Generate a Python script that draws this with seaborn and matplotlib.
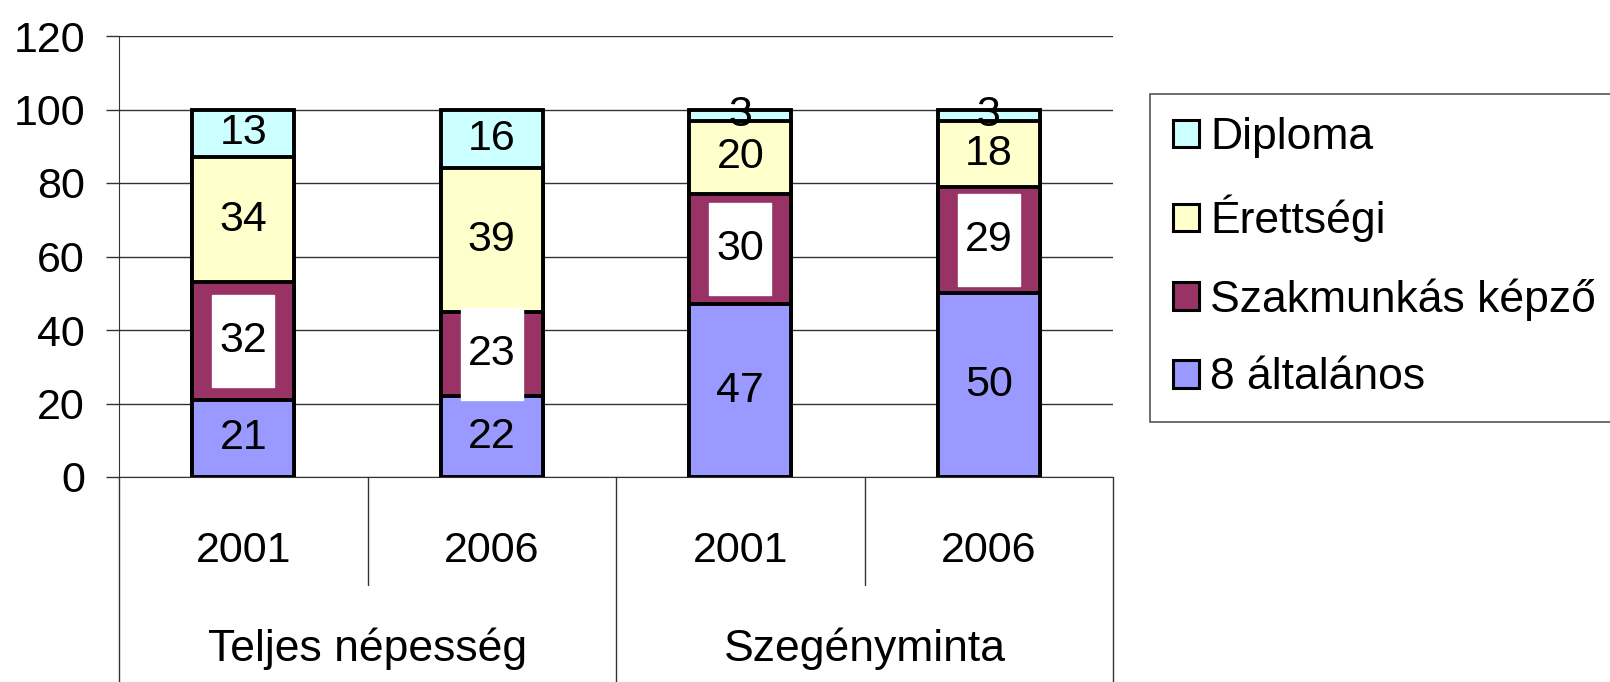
import matplotlib
matplotlib.use("Agg")
import matplotlib.pyplot as plt
import matplotlib.transforms as mtransforms
from matplotlib.patches import Patch
import pandas as pd
import seaborn as sns

# Adatok
groups = ["Teljes népesség", "Teljes népesség", "Szegényminta", "Szegényminta"]
years = ["2001", "2006", "2001", "2006"]
series = ["8 általános", "Szakmunkás képző", "Érettségi", "Diploma"]
alt8 = [21, 22, 47, 50]
szakmunkas = [32, 23, 30, 29]
erettsegi = [34, 39, 20, 18]
diploma = [13, 16, 3, 3]
colors = ["#9999FF", "#993366", "#FFFFCC", "#CCFFFF"]
yticks = [0, 20, 40, 60, 80, 100, 120]

sns.set_style("white")
plt.rcParams["font.family"] = ["Liberation Sans", "DejaVu Sans"]
plt.rcParams["text.color"] = "black"
plt.rcParams["ytick.labelcolor"] = "black"

df = pd.DataFrame({
    "group": groups,
    "year": years,
    "8 általános": alt8,
    "Szakmunkás képző": szakmunkas,
    "Érettségi": erettsegi,
    "Diploma": diploma,
})
df["key"] = df["group"] + " " + df["year"]
cum = df[series].cumsum(axis=1)

fig = plt.figure(figsize=(16.1, 6.82), dpi=100)
ax = fig.add_axes([119 / 1610, 205 / 682, (1113 - 119) / 1610, 441 / 682])

# Halmozott oszlopok: a teljes magasságtól lefelé rajzolva
for name, color in reversed(list(zip(series, colors))):
    sns.barplot(data=df.assign(top=cum[name]), x="key", y="top", color=color,
                saturation=1, width=0.41, edgecolor="black", linewidth=2.8,
                errorbar=None, ax=ax, zorder=3)

# Fehér háttér a szakmunkás címkék mögött
mid_szak = cum["8 általános"] + df["Szakmunkás képző"] / 2
ax.bar(range(len(df)), 25, bottom=mid_szak - 12.5, width=0.25,
       color="white", zorder=4)

# Adatcímkék
for name in series:
    bottoms = cum[name] - df[name]
    for i, (b, v) in enumerate(zip(bottoms, df[name])):
        ax.text(i, b + v / 2, str(v), ha="center", va="center",
                fontsize=31, color="black", zorder=5)

ax.set_xlim(-0.5, 3.5)
ax.set_ylim(0, 120)
ax.set_yticks(yticks)
ax.tick_params(axis="y", labelsize=31, direction="out", length=9.5,
               width=1, color="#333333", pad=15, left=True)
ax.set_xticks([])
ax.set_xlabel("")
ax.set_ylabel("")
ax.yaxis.grid(True, color="#333333", linewidth=1)
ax.set_axisbelow(True)
for s in ["top", "right"]:
    ax.spines[s].set_visible(False)
ax.spines["left"].set_color("#333333")
ax.spines["bottom"].set_color("#333333")

# Kétszintű kategóriatengely
trans = mtransforms.blended_transform_factory(ax.transData, ax.transAxes)
for i, y in enumerate(years):
    ax.text(i, -0.168, y, transform=trans, ha="center", va="center",
            fontsize=31)
for x, g in [(0.5, groups[0]), (2.5, groups[2])]:
    ax.text(x, -0.39, g, transform=trans, ha="center", va="center",
            fontsize=32)
for x in [0.5, 2.5]:
    ax.plot([x, x], [0, -0.245], transform=trans, color="#333333",
            linewidth=1, clip_on=False)
for x in [-0.5, 1.5, 3.5]:
    ax.plot([x, x], [0, -0.5], transform=trans, color="#333333",
            linewidth=1, clip_on=False)

# Jelmagyarázat
handles = [Patch(facecolor=c, edgecolor="black", linewidth=2.2, label=n)
           for n, c in zip(series, colors)][::-1]
leg = fig.legend(handles=handles, loc="upper left",
                 bbox_to_anchor=(1150 / 1610, 1 - 94 / 682),
                 bbox_transform=fig.transFigure, fontsize=32,
                 frameon=True, fancybox=False, framealpha=1,
                 edgecolor="#555555", handlelength=0.58, handleheight=0.58,
                 handletextpad=0.25, labelspacing=0.82, borderpad=0.52,
                 borderaxespad=0)
leg.get_frame().set_linewidth(1.2)

fig.savefig("out.png", dpi=100)
